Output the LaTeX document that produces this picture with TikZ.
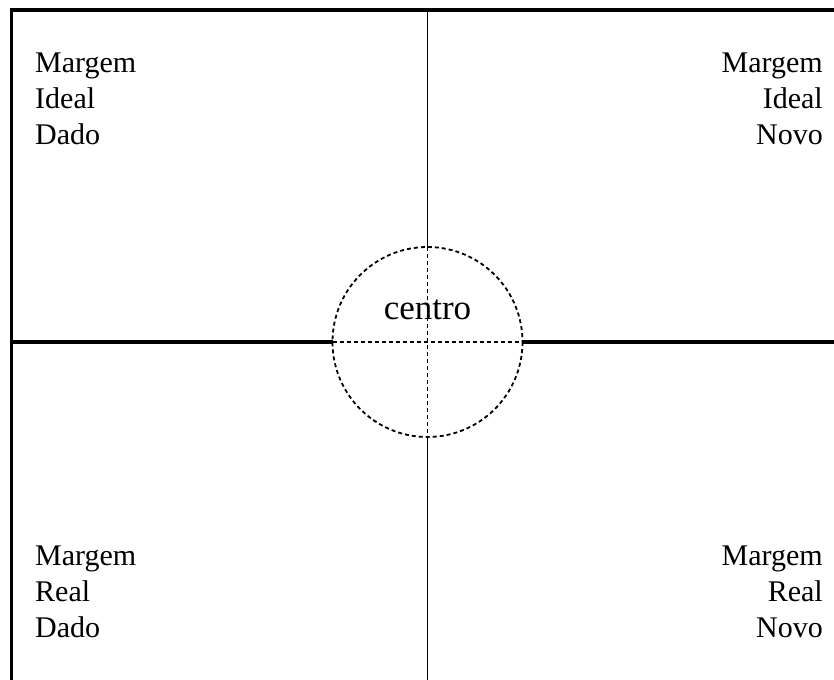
\documentclass[tikz,border=0pt]{standalone}
\usepackage{fontspec}
\setmainfont{Liberation Serif}
\usepackage{tikz}
\usetikzlibrary{positioning}

\begin{document}
\begin{tikzpicture}[x=1bp, y=-1bp, >=latex,
    rotulo/.style={inner sep=0pt, font=\fontsize{30bp}{36bp}\selectfont},
    eixo/.style={line width=4.5bp},
    tracejado/.style={line width=1.8bp, dash pattern=on 4bp off 3bp}]

    % Rahmen der Seite
    \useasboundingbox (0,0) rectangle (834,680);
    \fill[white] (0,0) rectangle (834,680);

    % --- Rand oben und links ---
    \draw[line width=3.5bp] (11.5,680) -- (11.5,10) -- (834,10);

    % --- Zentrum ---
    \coordinate (centro) at (427.5,342);
    \draw[tracejado] (centro) circle[radius=95];
    \coordinate (cO) at (332.5,342);
    \coordinate (cL) at (522.5,342);
    \coordinate (cN) at (427.5,247);
    \coordinate (cS) at (427.5,437);
    \draw[tracejado] (cO) -- (cL);
    \draw[tracejado] (cN) -- (cS);
    \node[rotulo, font=\fontsize{35bp}{40bp}\selectfont, anchor=base] (tcentro) at (427.5,319) {centro};

    % Achsen (ausserhalb vom Kreis)
    \coordinate (eO) at (11.5,342);
    \coordinate (eL) at (834,342);
    \coordinate (eN) at (427.5,10);
    \coordinate (eS) at (427.5,680);
    \draw[eixo] (eO) -- (cO);
    \draw[eixo] (cL) -- (eL);
    \draw[line width=1.5bp] (eN) -- (cN);
    \draw[line width=1.5bp] (cS) -- (eS);

    % --- Margens (base = letzte Zeile) ---
    \node[rotulo, align=left, anchor=base west] (idealdado) at (35,145) {Margem\\Ideal\\Dado};
    \node[rotulo, align=right, anchor=base east] (idealnovo) at (823,145) {Margem\\Ideal\\Novo};
    \node[rotulo, align=left, anchor=base west] (realdado) at (35,637) {Margem\\Real\\Dado};
    \node[rotulo, align=right, anchor=base east] (realnovo) at (823,637) {Margem\\Real\\Novo};

\end{tikzpicture}
\end{document}
